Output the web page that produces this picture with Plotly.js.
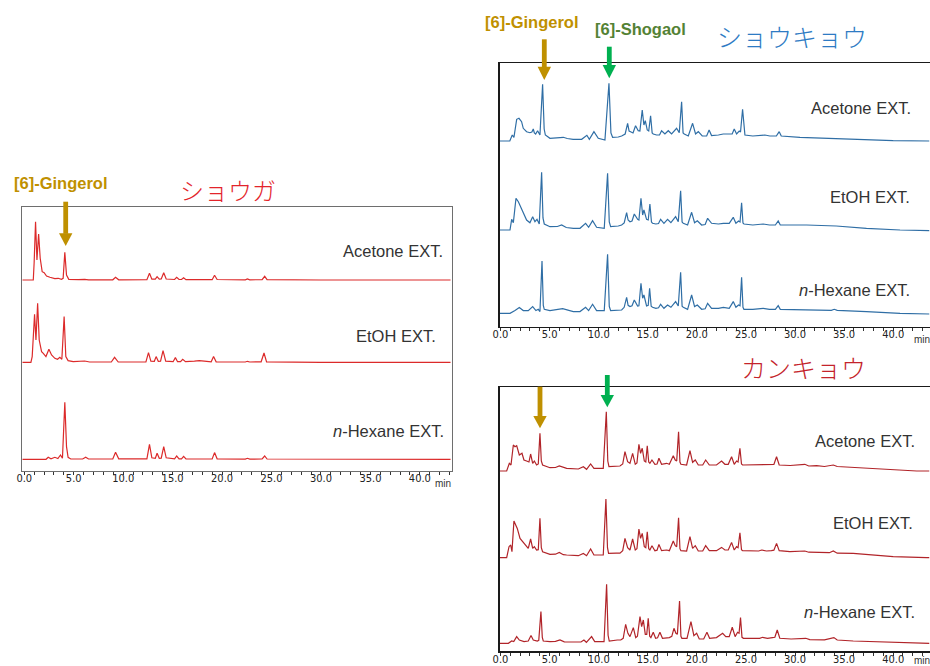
<!DOCTYPE html>
<html><head><meta charset="utf-8">
<script src="https://cdn.plot.ly/plotly-3.0.1.min.js"></script>
<style>html,body{margin:0;padding:0;background:#fff}#chart{width:930px;height:666px}</style>
</head><body><div id="chart"></div>
<script>
// ---- data: [retention time (min), detector response (arb. units above baseline)] ----
const tickValues = [0,5,10,15,20,25,30,35,40];
const tickLabels = ['0.0','5.0','10.0','15.0','20.0','25.0','30.0','35.0','40.0'];
const extractNames = ['Acetone EXT.','EtOH EXT.','<i>n</i>-Hexane EXT.'];
const panelTitles = ['ショウガ','ショウキョウ','カンキョウ'];

const shogaAcetone = [[-0.2,0],[0.91,0],[1.0,18],[1.14,58.3],[1.28,20],[1.45,46],[1.61,21.7],[1.81,8.3],[2.01,7.3],[2.25,4],[2.59,2.7],[3.09,1.3],[3.43,1.7],[3.76,0.7],[3.93,1.7],[4.1,27.7],[4.27,5],[4.5,0.7],[5.5,0.3],[6.11,0.7],[6.5,0.2],[8.95,0.2],[9.23,2.7],[9.55,0.2],[12.4,0.3],[12.66,6.7],[12.9,0.8],[13.25,0.8],[13.43,3.3],[13.65,0.8],[13.85,1],[14.1,7.3],[14.35,1],[15.2,0.5],[15.41,2.7],[15.65,0.5],[15.9,0.5],[16.11,2.3],[16.35,0.3],[19.0,0.3],[19.24,4.7],[19.5,0.5],[22.35,0.2],[22.56,1],[22.8,0.2],[24.05,0.3],[24.31,3.7],[24.55,0.3],[30,0],[33.5,0],[33.8,0.7],[34.1,0],[36.2,0.5],[37.5,0.5],[38.8,0],[39.2,0.7],[39.5,0],[43.1,0]];
const shogaEtOH = [[-0.2,0],[0.67,0],[0.8,5.7],[1.04,48],[1.18,22.3],[1.35,59],[1.51,22.3],[1.75,10.7],[1.92,9],[2.19,5.7],[2.49,13],[2.76,7.3],[3.09,4],[3.36,3],[3.6,5],[3.8,3],[4.03,45.7],[4.2,5.7],[4.43,1.7],[4.95,0.7],[6.11,1.3],[6.6,0.3],[8.8,0.3],[9.13,5],[9.5,0.3],[12.3,0.5],[12.56,9.7],[12.8,1.2],[13.15,1],[13.33,5.7],[13.55,1],[13.78,1.2],[14.03,11.7],[14.3,1.2],[15.05,0.6],[15.28,4.7],[15.5,0.6],[15.8,0.6],[16.02,3],[16.3,0.6],[17.2,1.2],[17.7,1.7],[18.2,1.2],[18.9,0.5],[19.14,5.7],[19.4,0.5],[22.35,0.3],[22.56,1],[22.8,0.3],[23.95,0.5],[24.24,9.3],[24.5,0.5],[30,0],[33.5,0],[33.8,0.7],[34.1,0],[36.2,0.5],[37.5,0.5],[38.8,0],[43.1,0]];
const shogaHexane = [[-0.2,0],[2.2,0],[2.42,2],[2.7,0.5],[3.09,2],[3.4,0.8],[3.66,4.3],[3.86,1],[4.1,57],[4.27,12.7],[4.43,2],[4.7,0.3],[5.9,0.3],[6.21,2],[6.5,0.3],[8.95,0.3],[9.23,7],[9.55,0.5],[12.4,0.5],[12.66,15],[12.9,1.5],[13.25,1],[13.43,6],[13.65,1],[13.85,1.2],[14.1,12.7],[14.35,1.5],[15.2,0.5],[15.41,3.3],[15.65,0.5],[15.9,0.5],[16.11,3],[16.35,0.3],[19.0,0.3],[19.24,6.7],[19.5,0.5],[22.35,0.2],[22.56,1],[22.8,0.2],[24.05,0.3],[24.31,3.3],[24.55,0.3],[43.1,0]];

const shokyoAcetone = [[-0.1,0],[0.95,0],[1.2,6],[1.37,3.7],[1.5,12],[1.65,21.7],[1.88,22.7],[2.15,19.3],[2.32,12.7],[2.66,9.3],[3.0,8.3],[3.2,9],[3.34,12],[3.45,8],[3.58,7],[3.78,10.3],[4.02,6],[4.29,56.7],[4.45,12],[4.57,6],[5.04,2.7],[6.0,3],[6.4,3.7],[6.8,2.5],[7.4,1.7],[8.27,1.7],[8.8,5.7],[9.05,1.7],[9.52,9.3],[9.96,2.7],[10.64,1],[11.05,57.7],[11.25,8],[11.42,3.7],[12.0,4],[12.34,5],[12.7,7],[12.95,17.7],[13.1,10],[13.25,9.3],[13.5,8],[13.76,15.3],[14.03,10.3],[14.2,10],[14.44,31],[14.61,16],[14.75,20.3],[14.95,11],[15.1,10],[15.29,25.3],[15.45,8],[15.56,7],[15.9,6],[16.2,6],[16.41,10.3],[16.75,7],[17.09,10.3],[17.43,7],[17.94,12.7],[18.21,8.3],[18.45,39.3],[18.6,8],[18.72,7],[19.13,5],[19.57,17.7],[19.87,7],[20.15,9.3],[20.55,5],[21.0,5],[21.25,11],[21.5,5.5],[22.2,6],[22.69,7],[23.37,7],[23.6,7],[23.81,12],[24.05,7],[24.32,10],[24.45,9],[24.66,31.7],[24.82,8],[24.9,6],[25.7,5],[26.93,6],[27.44,5],[28.1,5],[28.39,9.3],[28.6,5],[30.5,3.7],[33.89,2.7],[37.28,1.7],[40.0,0.3],[43.7,0]];
const shokyoEtOH = [[-0.1,0],[0.97,0],[1.14,10.7],[1.31,7.3],[1.45,20],[1.58,31.7],[1.82,28.3],[2.05,23.3],[2.32,16.7],[2.66,10],[3.0,7.3],[3.28,13.3],[3.51,8.3],[3.72,10.7],[3.95,6],[4.19,57.7],[4.33,12],[4.46,6],[5.04,3.3],[5.8,3.5],[6.23,5],[6.7,2.5],[7.42,1.7],[8.1,1.7],[8.67,6.7],[8.98,2.7],[9.38,9.3],[9.79,2.7],[10.57,1.7],[10.91,56.7],[11.08,8],[11.22,3.3],[12.0,4],[12.34,5],[12.6,7],[12.85,17.3],[13.0,10],[13.19,8.3],[13.4,9],[13.63,16],[13.97,10.7],[14.1,10],[14.31,31.7],[14.48,15],[14.61,20],[14.88,10.7],[15.05,10],[15.22,26],[15.38,8],[15.49,6.7],[15.83,6],[16.1,6.5],[16.31,10.7],[16.65,6.7],[17.02,10.7],[17.36,7.3],[17.84,13.3],[18.11,8.3],[18.35,39.3],[18.5,8],[18.62,6.7],[19.06,5],[19.47,17.7],[19.77,7.3],[20.05,9.3],[20.49,5],[20.85,5.5],[21.1,11.7],[21.5,6.7],[22.2,6],[22.7,6.7],[23.3,6.7],[23.71,12.7],[23.98,6.7],[24.25,9],[24.4,8],[24.56,27.3],[24.7,7],[24.8,6],[25.7,5],[26.76,6],[27.4,5],[28.0,5],[28.29,9],[28.5,5],[31.18,5],[34.2,4],[37.28,1.7],[40.7,0],[43.7,-0.7]];
const shokyoHexane = [[-0.1,0],[0.97,0],[1.48,2.7],[1.92,5.7],[2.32,2.7],[2.83,2.7],[3.28,6.7],[3.61,2.7],[3.85,4],[4.02,1.7],[4.23,52.3],[4.36,8],[4.46,4],[5.04,2.7],[6.33,4.7],[7.42,1.7],[8.1,1.7],[8.67,6],[8.98,2.7],[9.38,9],[9.79,2.7],[10.57,2.7],[10.91,59],[11.08,7],[11.22,2.7],[12.0,3],[12.34,3.3],[12.6,6],[12.85,16],[13.0,8],[13.19,6.7],[13.4,7.5],[13.63,13.3],[13.97,7.3],[14.1,7.5],[14.31,30],[14.48,15],[14.61,18.3],[14.88,7.3],[15.05,8],[15.19,25],[15.35,7],[15.49,6],[15.83,5],[16.1,5.5],[16.31,9],[16.65,5],[17.02,8.3],[17.36,6],[17.84,11.7],[18.11,7.3],[18.35,41],[18.5,7],[18.62,6],[19.06,4],[19.47,18.3],[19.77,6.7],[20.05,8.3],[20.49,4],[20.85,4.5],[21.1,10],[21.5,5],[22.2,5],[22.7,6],[23.3,5],[23.71,11.7],[23.98,6],[24.25,8.3],[24.4,7.5],[24.56,36],[24.7,6],[24.8,4],[25.7,4],[26.76,5],[27.4,4],[28.0,4],[28.29,7.7],[28.5,4],[31.18,3.3],[33.7,3],[34.0,4],[34.3,3],[37.28,1.7],[40.7,0],[43.7,-0.7]];

const kankyoAcetone = [[-0.3,0],[0.63,0],[0.9,7.7],[1.07,6],[1.31,26],[1.48,24.3],[1.65,25.3],[1.92,16],[2.19,17.7],[2.39,11],[2.66,10],[2.9,9],[3.07,17],[3.28,7.7],[3.45,10],[3.68,6],[3.85,7],[4.02,37.7],[4.16,10],[4.29,6],[5.04,3.3],[5.6,3.5],[5.99,5],[6.4,3.5],[6.74,2.7],[7.93,2],[8.44,4.3],[8.77,1.7],[9.18,7],[9.52,2.7],[10.47,2.7],[10.78,59.3],[10.93,10],[11.05,4.3],[11.8,4.5],[12.17,5],[12.45,7],[12.68,19.3],[12.95,9.3],[13.19,7.7],[13.46,17.7],[13.73,6.7],[13.9,8],[14.1,26.7],[14.27,17.7],[14.44,22.7],[14.65,10],[14.8,9],[14.95,25.3],[15.1,9],[15.22,7.7],[15.43,11],[15.73,6.7],[15.95,7],[16.14,12.7],[16.41,6.7],[16.92,7.7],[17.2,6.7],[17.6,15.3],[17.8,11],[17.95,10],[18.14,39.3],[18.28,9],[18.38,6.7],[18.96,6],[19.3,20.3],[19.57,8.7],[19.84,11],[20.15,6],[20.6,6],[20.9,11],[21.27,6],[22.0,6],[22.52,10],[22.86,6.7],[23.2,6.7],[23.54,14.3],[23.81,6.7],[24.05,10],[24.2,9],[24.39,22.7],[24.55,7],[24.66,6],[25.7,6],[26.3,6],[26.6,6.7],[27.1,6],[27.6,6],[27.85,6.5],[28.12,14.3],[28.39,6],[29.5,5.5],[31.0,6.7],[31.4,5],[32.2,5.3],[33.0,4.5],[33.9,6],[34.3,4.5],[35.93,3.7],[37.97,2.7],[40.0,1],[42.4,0],[43.7,0]];
const kankyoEtOH = [[-0.3,0],[0.63,0],[0.87,11],[1.04,12.7],[1.17,6],[1.37,36.7],[1.55,32.7],[1.71,29.3],[1.99,19.3],[2.26,16],[2.6,11],[2.83,9.3],[3.07,18.7],[3.28,9.3],[3.45,11],[3.68,7.7],[3.85,8],[4.02,39.3],[4.16,10],[4.29,6],[5.04,3.3],[5.6,3.5],[5.99,5.3],[6.4,3],[6.74,2.7],[7.93,2],[8.44,4.3],[8.77,2],[9.18,8.7],[9.52,2.7],[10.47,2.7],[10.74,58.7],[10.9,10],[11.01,4.3],[11.8,4.5],[12.17,4.5],[12.45,7],[12.68,19.3],[12.95,10],[13.19,7.7],[13.46,18.7],[13.73,7.7],[13.9,9],[14.1,28.7],[14.27,19.3],[14.44,24.3],[14.65,11],[14.8,10],[14.95,26],[15.1,9],[15.22,7.7],[15.43,12],[15.73,7],[15.95,7.5],[16.14,13.3],[16.41,7],[16.92,7.7],[17.2,7],[17.6,16.7],[17.8,12],[17.95,11],[18.14,40],[18.28,9],[18.38,7],[18.96,6.7],[19.3,21],[19.57,9.3],[19.84,12],[20.15,6.7],[20.6,6.7],[20.9,12],[21.27,7],[22.0,7],[22.52,10.3],[22.86,7.7],[23.2,7.7],[23.54,15.3],[23.81,7.7],[24.05,11],[24.2,10],[24.39,25],[24.55,8],[24.66,7],[25.7,6.7],[26.3,6.7],[26.6,7.7],[27.1,6.7],[27.6,7],[27.85,7.5],[28.12,14.3],[28.39,7],[29.48,6],[31.0,6.7],[31.4,5.5],[32.5,5.3],[33.5,5],[33.9,6.7],[34.3,4.5],[35.93,4.3],[37.97,2.7],[40.0,1],[43.4,0],[43.7,0]];
const kankyoHexane = [[-0.3,0],[0.8,0],[1.14,2.3],[1.35,1.7],[1.65,6.7],[1.92,3.3],[2.4,1.7],[2.83,2.3],[3.11,7.7],[3.34,3.3],[3.75,2.3],[3.9,3],[4.12,31.7],[4.26,6],[4.36,2.3],[5.04,1.7],[5.6,2],[6.06,3.3],[6.5,1.5],[7.6,1],[8.2,1.3],[8.5,3.3],[8.75,1],[9.28,6.7],[9.6,1.7],[10.55,1.7],[10.81,59],[10.96,8],[11.08,2.3],[11.9,3.3],[12.25,3.3],[12.5,5],[12.75,19],[12.98,10],[13.19,6.7],[13.53,15.7],[13.78,5.7],[13.95,7],[14.21,26.7],[14.38,16.7],[14.55,23.3],[14.75,9],[14.9,9],[15.05,25],[15.2,7],[15.32,5.7],[15.56,11],[15.8,5],[16.0,5.5],[16.24,11],[16.5,5],[17.2,5.7],[17.45,7],[17.67,15],[17.87,10],[18.02,9],[18.24,42.3],[18.38,7],[18.48,5],[19.0,5],[19.4,21.7],[19.7,7.7],[19.98,10],[20.25,4.3],[20.7,4.3],[21.03,11],[21.3,5],[22.0,5.7],[22.63,10],[22.95,6.7],[23.3,6.7],[23.61,16],[23.9,6.7],[24.15,11],[24.3,10],[24.45,25.7],[24.6,6],[24.75,5],[25.7,5],[26.4,5],[26.7,6],[27.2,5],[27.7,5.7],[27.95,6],[28.19,13.3],[28.45,5],[29.6,4.3],[31.1,5],[31.5,3.7],[33.0,3.5],[33.96,5.7],[34.3,3.3],[35.93,2.3],[37.97,1.7],[40.0,0.7],[43.4,0],[43.7,0]];

// ---- layout helpers (pixel -> paper) ----
const W = 930, H = 666;
const px = x => x / W, py = y => 1 - y / H;

const panels = [
  {ax:'', box:[22.3,452,206.7,470.7], xr:[-0.2,43.25], yr:264, offsets:[190.7,108.4,11.4],
   series:[shogaAcetone,shogaEtOH,shogaHexane], color:'#dc2a2a', frame:'#6e6e6e',
   labels:[[445,250.7],[437.7,335.7],[446,430.7]], min:[443,483]},
  {ax:'2', box:[499.5,929.5,62.7,326.7], xr:[-0.1,43.7], yr:264, offsets:[185.7,96.7,13.4],
   series:[shokyoAcetone,shokyoEtOH,shokyoHexane], color:'#2f6ea5', frame:'#1a1a1a',
   labels:[[912.7,108.3],[912,196.7],[912,290]], min:[922,339]},
  {ax:'3', box:[499.5,929.5,386.7,651.3], xr:[-0.1,43.7], yr:264.6, offsets:[180.3,93.6,8],
   series:[kankyoAcetone,kankyoEtOH,kankyoHexane], color:'#b12429', frame:'#1a1a1a',
   labels:[[916.7,440.7],[915,523.3],[916.7,611.7]], min:[922,660]}
];

const traces = [];
const layout = {
  width: W, height: H, margin:{l:0,r:0,t:0,b:0}, paper_bgcolor:'#fff', plot_bgcolor:'#fff',
  showlegend:false, annotations:[], shapes:[]
};
const tickFont = {family:'Liberation Sans Narrow, DejaVu Sans Condensed, Liberation Sans, sans-serif', size:11, color:'#222'};
const labFont = {family:'Liberation Sans, Arial, sans-serif', size:16.5, color:'#333'};

panels.forEach(p => {
  p.series.forEach((s, i) => {
    traces.push({
      x: s.map(d => d[0]), y: s.map(d => d[1] + p.offsets[i]),
      type:'scatter', mode:'lines', xaxis:'x'+p.ax, yaxis:'y'+p.ax,
      line:{color:p.color, width:1.2}, hoverinfo:'skip'
    });
  });
  layout['xaxis'+p.ax] = {
    domain:[px(p.box[0]), px(p.box[1])], range:p.xr, anchor:'y'+p.ax,
    showgrid:false, zeroline:false, showline:true, mirror:true, linecolor:p.frame, linewidth:1.2,
    ticks:'', tickvals:tickValues, ticktext:tickLabels, tickfont:tickFont, ticklabelstandoff:-3,
    minor:{dtick:1, tick0:0, ticks:'outside', ticklen:3, tickcolor:'#333', tickwidth:1, showgrid:false}
  };
  layout['yaxis'+p.ax] = {
    domain:[py(p.box[3]), py(p.box[2])], range:[0,p.yr], anchor:'x'+p.ax,
    showgrid:false, zeroline:false, showline:true, mirror:true, linecolor:p.frame, linewidth:1.2,
    showticklabels:false, ticks:''
  };
  p.labels.forEach((l, i) => layout.annotations.push({
    xref:'paper', yref:'paper', x:px(l[0]), y:py(l[1]), xanchor:'right', yanchor:'middle',
    text:extractNames[i], showarrow:false, font:labFont
  }));
  layout.annotations.push({xref:'paper', yref:'paper', x:px(p.min[0]), y:py(p.min[1]),
    xanchor:'center', yanchor:'middle', text:'min', showarrow:false,
    font:{family:'Liberation Sans Narrow, Liberation Sans, sans-serif', size:10, color:'#333'}});
});

// titles
const jpFont = 'Noto Sans CJK JP, sans-serif';
[[228,189,'#e3242b',24],[791.5,36,'#2e7bc4',25],[803.5,367,'#c4232b',25]].forEach((t,i) =>
  layout.annotations.push({xref:'paper', yref:'paper', x:px(t[0]), y:py(t[1]), xanchor:'center', yanchor:'middle',
    text:panelTitles[i], showarrow:false, font:{family:jpFont, size:t[3], color:t[2], weight:300}}));

// compound labels
const gold = '#bf9000', green = '#00b050';
const cmpFont = (c) => ({family:'Liberation Sans, Arial, sans-serif', size:16.5, color:c, weight:'bold'});
layout.annotations.push({xref:'paper', yref:'paper', x:px(12), y:py(183), xanchor:'left', yanchor:'middle', text:'[6]-Gingerol', showarrow:false, font:cmpFont(gold)});
layout.annotations.push({xref:'paper', yref:'paper', x:px(483), y:py(22), xanchor:'left', yanchor:'middle', text:'[6]-Gingerol', showarrow:false, font:cmpFont(gold)});
layout.annotations.push({xref:'paper', yref:'paper', x:px(593), y:py(29), xanchor:'left', yanchor:'middle', text:'[6]-Shogaol', showarrow:false, font:cmpFont('#548235')});

// arrows
function arrow(xc, yTop, yHead, yTip, color) {
  layout.shapes.push({type:'rect', xref:'paper', yref:'paper', x0:px(xc-2.4), x1:px(xc+2.4), y0:py(yTop), y1:py(yHead+0.5),
    fillcolor:color, line:{width:0}});
  layout.shapes.push({type:'path', xref:'paper', yref:'paper',
    path:`M ${px(xc-6.7)} ${py(yHead)} L ${px(xc+6.7)} ${py(yHead)} L ${px(xc)} ${py(yTip)} Z`,
    fillcolor:color, line:{width:0}});
}
arrow(65.7, 201.7, 233.3, 246, gold);
arrow(544.3, 39.3, 66.7, 80, gold);
arrow(609.3, 46.7, 65, 78.3, green);
arrow(540, 386.7, 416, 428.3, gold);
arrow(607.3, 375, 395, 407.3, green);

Plotly.newPlot('chart', traces, layout, {staticPlot:true, displayModeBar:false});
</script>
</body></html>
